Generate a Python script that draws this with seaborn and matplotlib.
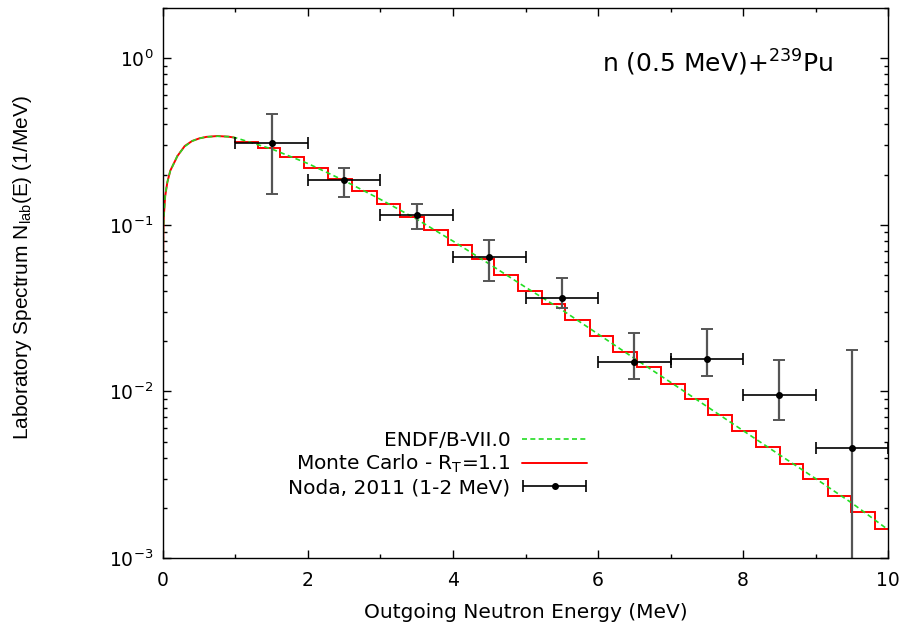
import numpy as np
import pandas as pd
import matplotlib
matplotlib.use("Agg")
import matplotlib.pyplot as plt
import seaborn as sns
from matplotlib.container import ErrorbarContainer
from matplotlib.legend_handler import HandlerErrorbar

# ENDF/B-VII.0 evaluated spectrum
endf_e = [0.001, 0.005, 0.01, 0.03, 0.06, 0.1, 0.2, 0.3, 0.4, 0.5, 0.6, 0.75, 0.9,
          1.0, 1.5, 2.0, 2.5, 3.0, 3.5, 4.0, 4.5, 5.0, 5.5, 6.0, 6.5, 7.0, 7.5,
          8.0, 8.5, 9.0, 9.5, 10.0]
endf_n = [0.05, 0.09, 0.11, 0.15, 0.18, 0.21, 0.26, 0.295, 0.318, 0.33, 0.337, 0.34, 0.338,
          0.333, 0.285, 0.233, 0.184, 0.142, 0.108, 0.0798, 0.0582, 0.0422, 0.0309,
          0.0221, 0.0158, 0.01135, 0.00813, 0.00582, 0.00417, 0.0030, 0.00214, 0.00148]

# Monte Carlo, smooth part below ~1 MeV
mc_low_e = [0.001, 0.005, 0.01, 0.03, 0.06, 0.1, 0.2, 0.3, 0.4, 0.5, 0.6, 0.75, 0.9, 0.98]
mc_low_n = [0.052, 0.09, 0.11, 0.148, 0.18, 0.211, 0.259, 0.297, 0.318, 0.33, 0.337, 0.341, 0.338, 0.334]

# Monte Carlo histogram above ~1 MeV
mc_edges = [0.98, 1.31, 1.62, 1.95, 2.28, 2.61, 2.95, 3.27, 3.6, 3.93, 4.26, 4.57,
            4.9, 5.23, 5.55, 5.89, 6.21, 6.54, 6.87, 7.2, 7.52, 7.85, 8.18, 8.51,
            8.83, 9.17, 9.49, 9.82, 10.0]
mc_levels = [0.315, 0.290, 0.255, 0.220, 0.188, 0.160, 0.134, 0.112, 0.093, 0.0757,
             0.0623, 0.0502, 0.0402, 0.0335, 0.0269, 0.0214, 0.0172, 0.0140, 0.0111,
             0.00904, 0.00718, 0.00578, 0.00464, 0.00369, 0.00300, 0.00236, 0.00188,
             0.00149]

# Noda 2011 data
noda_e = [1.5, 2.5, 3.5, 4.5, 5.5, 6.5, 7.5, 8.5, 9.5]
noda_n = [0.311, 0.185, 0.114, 0.0639, 0.0365, 0.0150, 0.0156, 0.00948, 0.00455]
noda_hi = [0.462, 0.220, 0.133, 0.0812, 0.0477, 0.0224, 0.0238, 0.0154, 0.0176]
noda_lo = [0.154, 0.147, 0.0948, 0.0463, 0.0317, 0.0118, 0.0123, 0.0067, 0.0001]
noda_dx = [0.5] * 9

sns.set_style("ticks")
plt.rcParams["font.family"] = ["DejaVu Sans"]
plt.rcParams["mathtext.fontset"] = "dejavusans"
plt.rcParams["text.color"] = "black"
plt.rcParams["axes.labelcolor"] = "black"
plt.rcParams["xtick.color"] = "black"
plt.rcParams["ytick.color"] = "black"

fig = plt.figure(figsize=(9.02, 6.26), dpi=100)
ax = fig.add_axes([0.1807, 0.1086, 0.8038, 0.8786])

df_endf = pd.DataFrame({"E": endf_e, "N": endf_n})
df_low = pd.DataFrame({"E": mc_low_e, "N": mc_low_n})

sns.lineplot(data=df_low, x="E", y="N", ax=ax, color="#ff0000", lw=1.4)
ax.stairs(mc_levels, mc_edges, baseline=None, color="#ff0000", lw=1.4,
          label=r"Monte Carlo - R$_{\mathregular{T}}$=1.1")
sns.lineplot(data=df_endf, x="E", y="N", ax=ax, color="#22dd22", lw=1.2,
             dashes=(3, 2), label="ENDF/B-VII.0")

n = np.array(noda_n)
yerr = [n - np.array(noda_lo), np.array(noda_hi) - n]
ax.errorbar(noda_e, noda_n, yerr=yerr, fmt="none", ecolor="#555555",
            elinewidth=1.6, capsize=4, capthick=1.4)
ax.errorbar(noda_e, noda_n, xerr=noda_dx, fmt="o", color="black", ms=4,
            elinewidth=1.2, capsize=4, capthick=1.2, label="Noda, 2011 (1-2 MeV)")

ax.set_yscale("log")
ax.set_xlim(0, 10)
ax.set_ylim(1e-3, 2.0)
ax.set_xticks([0, 2, 4, 6, 8, 10])
ax.set_xticks([1, 3, 5, 7, 9], minor=True)
ax.tick_params(which="both", direction="in", top=True, right=True, labelsize=13.5)
ax.tick_params(which="major", length=6, width=1)
ax.tick_params(which="minor", length=3, width=1)
ax.tick_params(axis="x", pad=9)
ax.tick_params(axis="y", pad=7)
for s in ax.spines.values():
    s.set_linewidth(1.0)
    s.set_color("black")

ax.set_xlabel("Outgoing Neutron Energy (MeV)", fontsize=14.5, labelpad=10)
ax.set_ylabel(r"Laboratory Spectrum N$_{\mathregular{lab}}$(E) (1/MeV)", fontsize=15,
              family="Liberation Sans")
ax.yaxis.set_label_coords(-0.178, 0.527)

ax.text(0.924, 0.884, r"n (0.5 MeV)+$^{\mathregular{239}}$Pu", transform=ax.transAxes,
        ha="right", va="baseline", fontsize=18)

h, l = ax.get_legend_handles_labels()
order = [l.index("ENDF/B-VII.0"), l.index(r"Monte Carlo - R$_{\mathregular{T}}$=1.1"),
         l.index("Noda, 2011 (1-2 MeV)")]
ax.legend([h[i] for i in order], [l[i] for i in order], loc="lower right",
          bbox_to_anchor=(0.604, 0.085), frameon=False, markerfirst=False,
          fontsize=14.5, handlelength=3.2, handletextpad=0.6, labelspacing=0.15,
          borderpad=0.2, numpoints=1,
          handler_map={ErrorbarContainer: HandlerErrorbar(xerr_size=1.55)})

plt.savefig("out.png", dpi=100)
